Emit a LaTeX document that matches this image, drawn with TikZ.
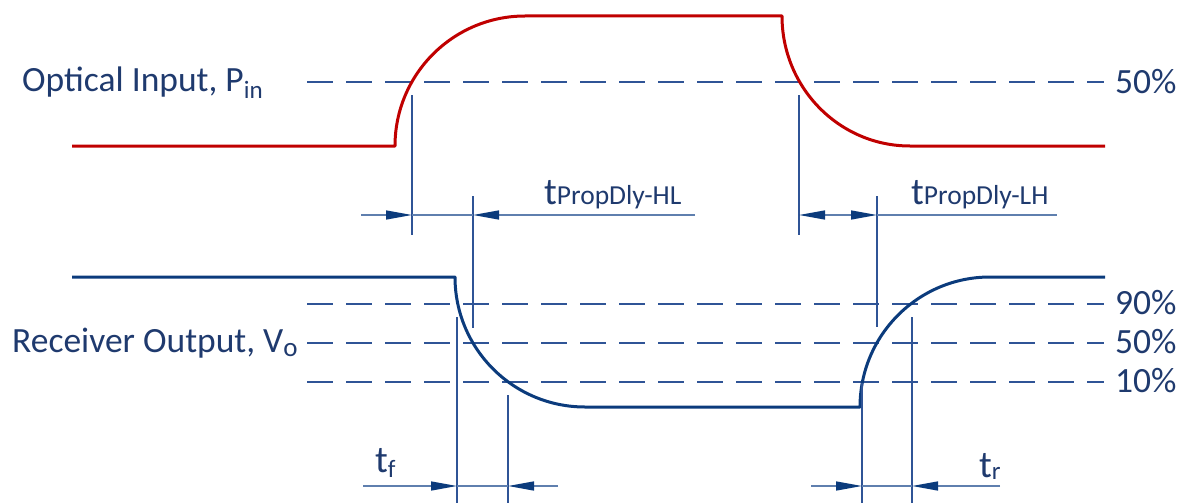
\documentclass[tikz,border=0pt]{standalone}
\usepackage{fontspec}
\setmainfont{Carlito}
\usetikzlibrary{arrows.meta}
\definecolor{sigred}{HTML}{C00000}
\definecolor{sigblue}{HTML}{0B3B7C}
\definecolor{thinblue}{HTML}{2F5496}
\definecolor{arrblue}{HTML}{5F7FAE}
\definecolor{txtblue}{HTML}{1F3A6E}
\newcommand\mybigfont{\fontsize{35.5}{38}\selectfont}
\newcommand\mytfont{\fontsize{38}{40}\selectfont}
\newcommand\mysubfont{\fontsize{25}{27}\selectfont}
\newcommand\mypropfont{\fontsize{27.5}{29}\selectfont}
\begin{document}
\begin{tikzpicture}[x=1pt,y=-1pt,
  sig/.style={line width=3pt,line join=round},
  dashln/.style={draw=thinblue,line width=1.2pt,dash pattern=on 26pt off 13pt},
  vline/.style={draw=thinblue,line width=1.3pt},
  arrln/.style={draw=arrblue,line width=1.4pt},
  tip/.style={-{Triangle[length=26pt,width=9pt,color=sigblue]}},
  lbl/.style={text=txtblue,inner sep=0pt,anchor=base west,font=\mybigfont}
]
\useasboundingbox (0,0) rectangle (1183,503);
% dashed reference lines
\coordinate (d1a) at (307,82);  \coordinate (d1b) at (1104,82);
\coordinate (d2a) at (307,304); \coordinate (d2b) at (1104,304);
\coordinate (d3a) at (307,343); \coordinate (d3b) at (1104,343);
\coordinate (d4a) at (307,382); \coordinate (d4b) at (1104,382);
\draw[dashln] (d1a) -- (d1b);
\draw[dashln] (d2a) -- (d2b);
\draw[dashln] (d3a) -- (d3b);
\draw[dashln] (d4a) -- (d4b);
% red optical input
\coordinate (r0) at (72,146);  \coordinate (r1) at (395,146);
\coordinate (r2) at (525,16);  \coordinate (r3) at (782,16);
\coordinate (r4) at (910,146); \coordinate (r5) at (1105,146);
\draw[sig,sigred] (r0) -- (r1) .. controls (395,74.2) and (453.2,16) .. (r2) -- (r3)
   .. controls (782,87.8) and (839.3,146) .. (r4) -- (r5);
% blue receiver output
\coordinate (b0) at (72,277);  \coordinate (b1) at (455,277);
\coordinate (b2) at (585,407); \coordinate (b3) at (860,407);
\coordinate (b4) at (990,277); \coordinate (b5) at (1105,277);
\draw[sig,sigblue] (b0) -- (b1) .. controls (455,348.8) and (513.2,407) .. (b2) -- (b3)
   .. controls (860,335.2) and (918.2,277) .. (b4) -- (b5);
% vertical markers, top
\coordinate (v1a) at (412,95);  \coordinate (v1b) at (412,235);
\coordinate (v2a) at (473,196); \coordinate (v2b) at (473,328);
\coordinate (v3a) at (799,95);  \coordinate (v3b) at (799,235);
\coordinate (v4a) at (877,196); \coordinate (v4b) at (877,327);
\draw[vline] (v1a) -- (v1b);
\draw[vline] (v2a) -- (v2b);
\draw[vline] (v3a) -- (v3b);
\draw[vline] (v4a) -- (v4b);
% vertical markers, bottom
\coordinate (w1a) at (457,317); \coordinate (w1b) at (457,503);
\coordinate (w2a) at (508,395); \coordinate (w2b) at (508,503);
\coordinate (w3a) at (862,383); \coordinate (w3b) at (862,503);
\coordinate (w4a) at (912,317); \coordinate (w4b) at (912,503);
\draw[vline] (w1a) -- (w1b);
\draw[vline] (w2a) -- (w2b);
\draw[vline] (w3a) -- (w3b);
\draw[vline] (w4a) -- (w4b);
% top arrows
\coordinate (a1s) at (361,215); \coordinate (a1t) at (412,215);
\coordinate (a2t) at (473,215); \coordinate (a2s) at (695,215);
\draw[arrln,tip] (a1s) -- (a1t);
\draw[arrln] (a1t) -- (a2t);
\draw[arrln,tip] (a2s) -- (a2t);
\coordinate (a3t) at (799,215); \coordinate (a4t) at (877,215);
\coordinate (a4e) at (1057,215);
\draw[arrln,{Triangle[length=26pt,width=9pt,color=sigblue]}-{Triangle[length=26pt,width=9pt,color=sigblue]}] (a3t) -- (a4t);
\draw[arrln] (a4t) -- (a4e);
% bottom arrows
\coordinate (c1s) at (363,486); \coordinate (c1t) at (457,486);
\coordinate (c2t) at (508,486); \coordinate (c2s) at (558,486);
\draw[arrln,tip] (c1s) -- (c1t);
\draw[arrln] (c1t) -- (c2t);
\draw[arrln,tip] (c2s) -- (c2t);
\coordinate (c3s) at (811,486); \coordinate (c3t) at (862,486);
\coordinate (c4t) at (912,486); \coordinate (c4s) at (1000,486);
\draw[arrln,tip] (c3s) -- (c3t);
\draw[arrln] (c3t) -- (c4t);
\draw[arrln,tip] (c4s) -- (c4t);
% labels
\node[lbl] (lin) at (22,91) {Optical Input, P\raisebox{-7pt}{\fontsize{25}{26}\selectfont in}};
\node[lbl] (lout) at (12,352) {Receiver Output, V\raisebox{-4pt}{\fontsize{27}{28}\selectfont o}};
\node[lbl] (p1) at (1115,93) {50\%};
\node[lbl] (p2) at (1115,314) {90\%};
\node[lbl] (p3) at (1115,353) {50\%};
\node[lbl] (p4) at (1115,392) {10\%};
\node[lbl,font=\mytfont] (thl) at (544,204) {t\mypropfont PropDly-HL};
\node[lbl,font=\mytfont] (tlh) at (911,204) {t\mypropfont PropDly-LH};
\node[lbl,font=\mytfont] (tf) at (375,472) {t\raisebox{-5pt}{\mysubfont f}};
\node[lbl,font=\mytfont] (tr) at (979,477) {t\raisebox{-2pt}{\mysubfont r}};
\end{tikzpicture}
\end{document}
